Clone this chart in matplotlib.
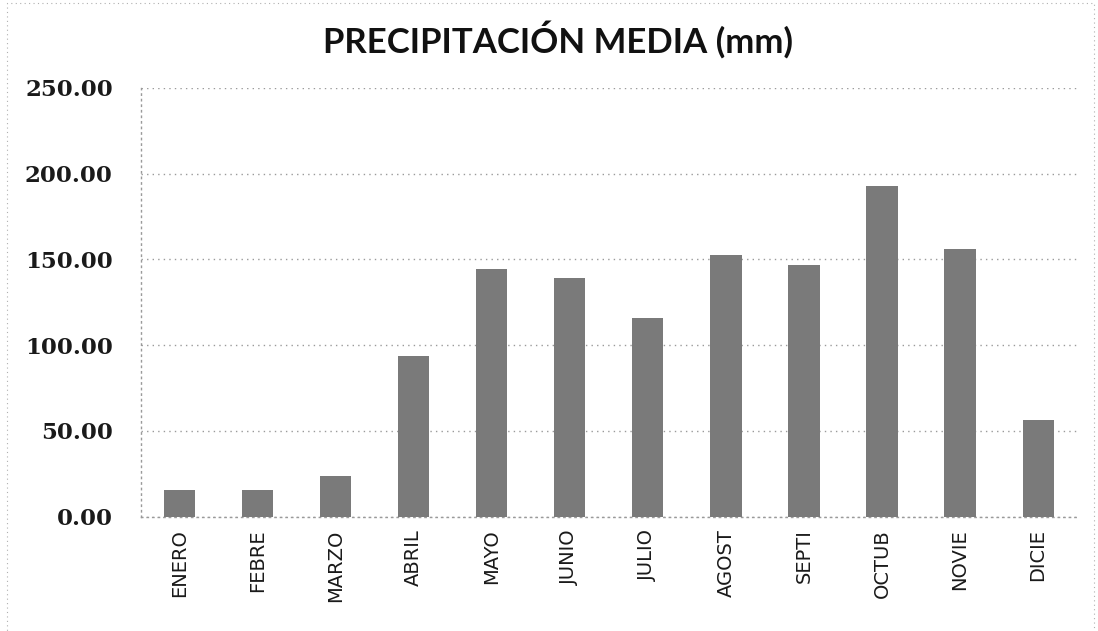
import matplotlib
matplotlib.use("Agg")
import matplotlib.pyplot as plt
from matplotlib.patches import Rectangle

meses = ["ENERO", "FEBRE", "MARZO", "ABRIL", "MAYO", "JUNIO",
         "JULIO", "AGOST", "SEPTI", "OCTUB", "NOVIE", "DICIE"]
precipitacion = [15.6, 15.6, 23.7, 93.6, 144.5, 139.3,
                 115.6, 152.6, 146.8, 193.0, 156.0, 56.6]
y_ticks = [0, 50, 100, 150, 200, 250]
y_labels = ["0.00", "50.00", "100.00", "150.00", "200.00", "250.00"]

fig = plt.figure(figsize=(10.98, 6.31), dpi=100)
ax = fig.add_axes([0.128, 0.181, 0.853, 0.680])

x = range(len(meses))
ax.bar(x, precipitacion, width=0.40, color="#7a7a7a", zorder=3)

ax.set_xlim(-0.5, len(meses) - 0.5)
ax.set_ylim(0, 250)
ax.set_yticks(y_ticks)
ax.set_yticklabels(y_labels, fontfamily="DejaVu Serif", fontsize=16.5,
                   fontweight="bold", color="#1a1a1a")
ax.set_xticks(list(x))
ax.set_xticklabels(meses, rotation=90, fontfamily="Liberation Sans Narrow",
                   fontsize=14, color="#1a1a1a")
ax.tick_params(axis="y", length=0, pad=20)
ax.tick_params(axis="x", length=0, pad=9)

ax.yaxis.grid(True, color="#9a9a9a", linestyle=(0, (1, 3)), linewidth=1.0, zorder=0)
for side in ["top", "right"]:
    ax.spines[side].set_visible(False)
for side in ["left", "bottom"]:
    ax.spines[side].set_color("#9a9a9a")
    ax.spines[side].set_linestyle((0, (1, 3)))
    ax.spines[side].set_linewidth(1.0)

fig.text(0.508, 0.937, "PRECIPITACIÓN MEDIA (mm)", ha="center", va="center",
         fontfamily="Lato", fontweight="bold", fontsize=25, color="#111111")

# dotted border around the chart area
fig.add_artist(Rectangle((0.006, -0.01), 0.99, 1.005, transform=fig.transFigure,
                         fill=False, edgecolor="#b0b0b0", linestyle=(0, (1, 3)),
                         linewidth=0.8))

fig.savefig("out.png", dpi=100, facecolor="white")
